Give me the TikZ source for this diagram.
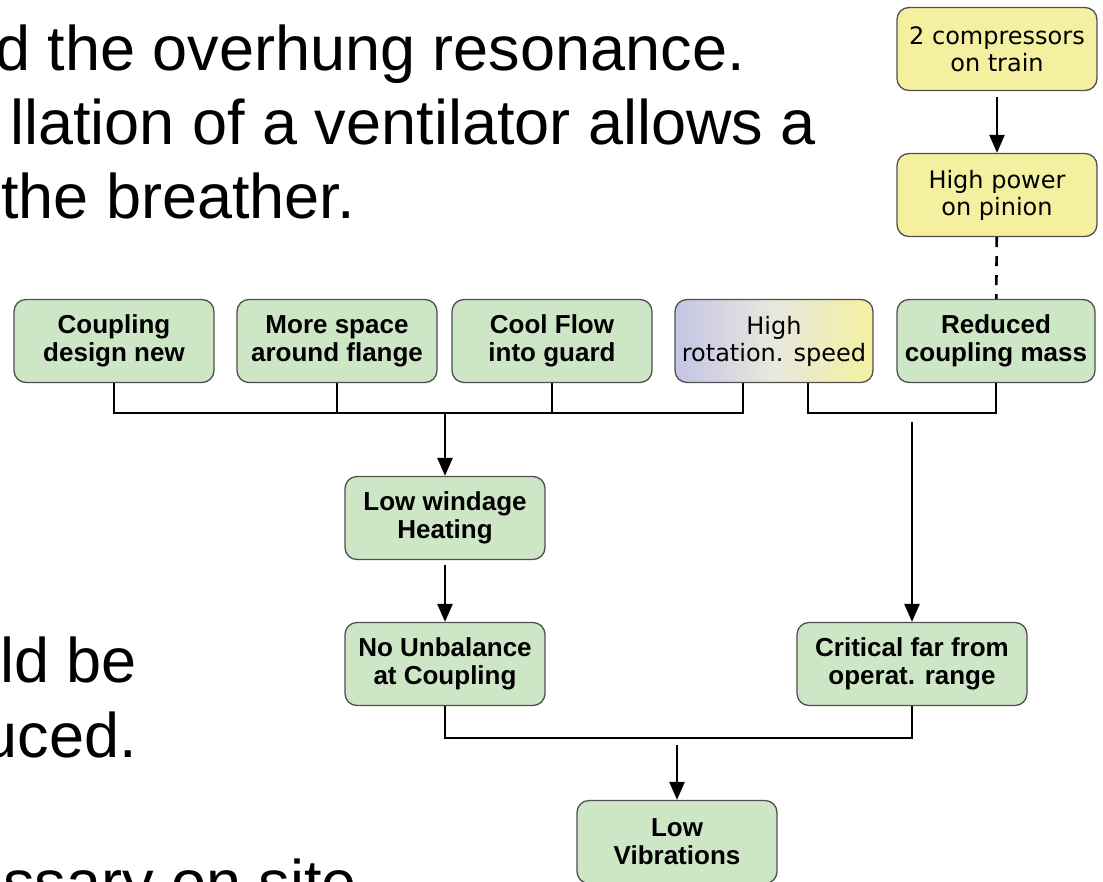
\documentclass[tikz,border=0pt]{standalone}
\usepackage{fontspec}
\setmainfont{Liberation Sans}
\newfontfamily\thinfont{DejaVu Sans}
\usetikzlibrary{arrows.meta}
\definecolor{boxgreen}{RGB}{205,230,197}
\definecolor{boxyellow}{RGB}{244,240,160}
\definecolor{boxlilac}{RGB}{196,196,228}
\definecolor{boxmid}{RGB}{232,232,222}
\definecolor{boxedge}{RGB}{80,80,80}

\begin{document}
\begin{tikzpicture}[x=1pt,y=-1pt,
	cause/.style={draw=boxedge, line width=1.3pt, rounded corners=12pt, fill=boxgreen,
		minimum width=200pt, minimum height=83pt, inner sep=0pt, align=center,
		font=\fontsize{26}{28}\selectfont\bfseries},
	given/.style={cause, fill=boxyellow, font=\fontsize{24}{27}\selectfont\thinfont},
	link/.style={line width=2.6pt},
	arr/.style={link, -{Triangle[length=18pt,width=15pt]}},
	slide/.style={font=\fontsize{63}{74}\selectfont, inner sep=0pt, anchor=base east}]
	\useasboundingbox (0,0) rectangle (1103,881);
	\clip (0,0) rectangle (1103,881);

	% slide text behind the chart
	\node [slide] (ln1) at (745,70) {d the overhung resonance.};
	\node [slide] (ln2) at (816,144) {llation of a ventilator allows a};
	\node [slide] (ln3) at (355,218) {the breather.};
	\node [slide] (ln4) at (137,682) {ld be};
	\node [slide] (ln5) at (137,757) {uced.};
	\node [slide] (ln6) at (357,904) {essary on site};

	% boxes
	\node [given] (comp2) at (997,49) {2 compressors\\on train};
	\node [given] (hipow) at (997,195) {High power\\on pinion};
	\node [cause] (coupl) at (114,341) {Coupling\\design new};
	\node [cause] (space) at (337,341) {More space\\around flange};
	\node [cause] (cool) at (552,341) {Cool Flow\\into guard};
	\node [given, minimum width=198pt, left color=boxlilac, right color=boxyellow,
		middle color=boxmid] (speed) at (774,341) {High\\rotation. speed};
	\node [cause, minimum width=198pt] (redu) at (996,341) {Reduced\\coupling mass};
	\node [cause] (windage) at (445,518) {Low windage\\Heating};
	\node [cause] (unbal) at (445,664) {No Unbalance\\at Coupling};
	\node [cause, minimum width=230pt] (crit) at (912,664) {Critical far from\\operat. range};
	\node [cause] (lowvib) at (677,842) {Low\\Vibrations};

	% connectors
	\draw [arr, shorten <=6pt] (comp2) -- (hipow);
	\draw [link, dash pattern=on 10pt off 9pt] (hipow) -- (redu);
	\draw [link] (coupl.south) -- ++(0,30) -| ([xshift=-31pt]speed.south);
	\draw [link] (space.south) -- ++(0,30);
	\draw [link] (cool.south) -- ++(0,30);
	\draw [link] ([xshift=34pt]speed.south) -- ++(0,30) -| (redu.south);
	\coordinate (splitL) at (445,414);
	\coordinate (splitR) at (912,422);
	\draw [arr] (splitL) -- (windage);
	\draw [arr] (splitR) -- (crit);
	\draw [arr, shorten <=5pt] (windage) -- (unbal);
	\draw [link] (unbal.south) -- ++(0,32) -| (crit.south);
	\coordinate (splitB) at (677,745);
	\draw [arr] (splitB) -- (lowvib);
\end{tikzpicture}
\end{document}
